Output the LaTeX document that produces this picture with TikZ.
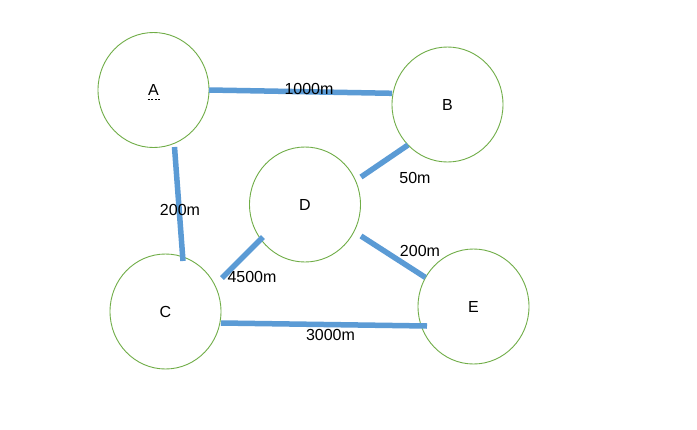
\documentclass[tikz,border=0pt]{standalone}
\usepackage{fontspec}
\setmainfont{Liberation Sans}
\usetikzlibrary{shapes.geometric}
\definecolor{nodegreen}{HTML}{70AD47}
\definecolor{edgeblue}{HTML}{5B9BD5}
\newcommand{\placetext}[1]{\raisebox{-1.5pt}{#1}}
\begin{document}
\begin{tikzpicture}[x=1pt,y=-1pt,
  place/.style={ellipse,draw=nodegreen,line width=0.9pt,minimum width=111pt,minimum height=115pt,inner sep=0pt,font=\fontsize{16}{19}\selectfont},
  road/.style={draw=edgeblue,line width=5.5pt},
  dist/.style={font=\fontsize{16}{19}\selectfont,inner sep=0pt}]
\useasboundingbox (0,0) rectangle (697,429);
\fill[white] (0,0) rectangle (697,429);
\node[place] (A) at (153.5,90) {\placetext{A}};
\node[place] (B) at (447.5,104.5) {\placetext{B}};
\node[place] (D) at (305,204.5) {\placetext{D}};
\node[place] (C) at (165.5,311.5) {\placetext{C}};
\node[place] (E) at (473.5,306.5) {\placetext{E}};
% connector end points
\coordinate (ab1) at (209,90);   \coordinate (ab2) at (392,93.3);
\coordinate (ac1) at (174.5,147); \coordinate (ac2) at (183,261);
\coordinate (bd1) at (408,145);  \coordinate (bd2) at (361,177);
\coordinate (dc1) at (263,237);  \coordinate (dc2) at (222,278);
\coordinate (de1) at (361,236);  \coordinate (de2) at (425.5,277.5);
\coordinate (ce1) at (221,323);  \coordinate (ce2) at (427,326);
\draw[road] (ab1) -- (ab2);
\draw[road] (ac1) -- (ac2);
\draw[road] (bd1) -- (bd2);
\draw[road] (dc1) -- (dc2);
\draw[road] (de1) -- (de2);
\draw[road] (ce1) -- (ce2);
% spell-check mark under A
\coordinate (ul1) at (147.5,99); \coordinate (ul2) at (159.5,99);
\draw[black,line width=0.6pt,dash pattern=on 2pt off 1.5pt] (ul1) -- (ul2);
\node[dist] (l1) at (309,88.5) {1000m};
\node[dist] (l2) at (415,177.5) {50m};
\node[dist] (l3) at (180,210) {200m};
\node[dist] (l4) at (420,250.5) {200m};
\node[dist] (l5) at (252,276.5) {4500m};
\node[dist] (l6) at (330.5,334.5) {3000m};
\end{tikzpicture}
\end{document}
